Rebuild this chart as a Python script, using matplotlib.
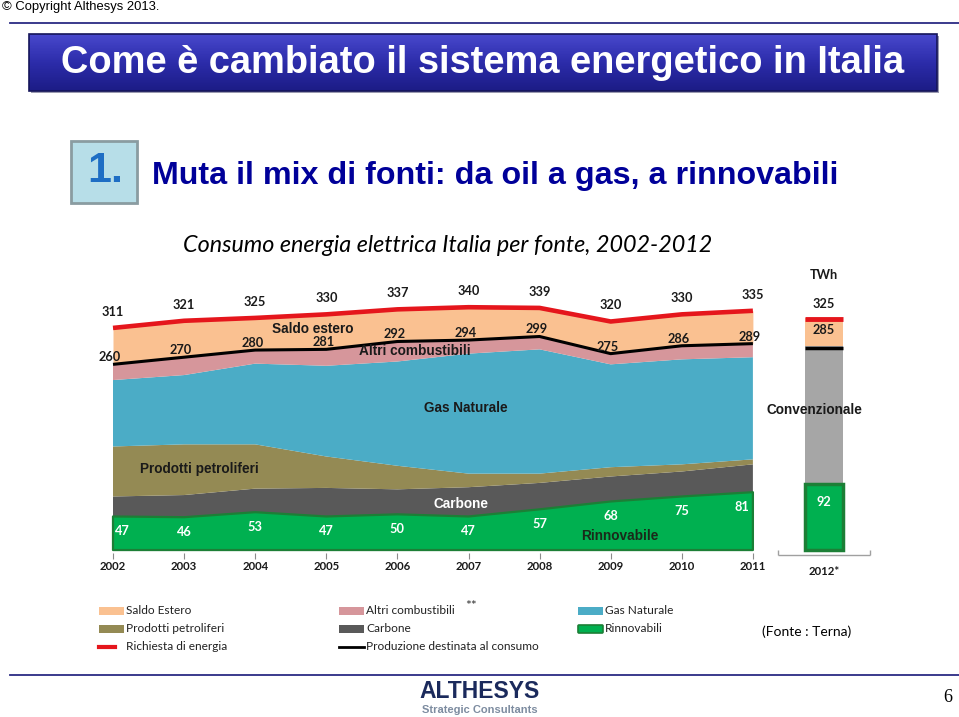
import numpy as np
import matplotlib.pyplot as plt
from matplotlib.patches import Rectangle, FancyBboxPatch
from matplotlib.colors import LinearSegmentedColormap
import matplotlib.transforms as mtransforms
from matplotlib import font_manager

# dati (TWh)
anni = [2002, 2003, 2004, 2005, 2006, 2007, 2008, 2009, 2010, 2011]
rinnovabili = [47, 46, 53, 47, 50, 47, 57, 68, 75, 81]
carbone = [28, 31, 33, 40, 35, 41, 37, 35, 35, 39]
petroliferi = [70, 71, 62, 44, 33, 19, 13, 13, 10, 7]
gas_naturale = [93, 97, 113, 127, 146, 168, 174, 144, 147, 143]
altri_comb = [22, 25, 19, 23, 28, 19, 18, 15, 19, 19]
produzione = [260, 270, 280, 281, 292, 294, 299, 275, 286, 289]
richiesta = [311, 321, 325, 330, 337, 340, 339, 320, 330, 335]

anno_2012 = 2012
rinn_2012 = 92
prod_2012 = 285
rich_2012 = 325

tick_labels = [str(a) for a in anni] + ['2012*']

c_saldo = '#fac191'
c_altri = '#d6969b'
c_gas = '#4bacc6'
c_petr = '#948a54'
c_carb = '#595959'
c_rinn = '#00b050'
c_rinn_edge = '#1c7f36'
c_red = '#e5161c'
c_conv = '#a6a6a6'

names = {f.name for f in font_manager.fontManager.ttflist}
def pick(*fams):
    return [f for f in fams if f in names] + ['DejaVu Sans']

CAL = pick('Lato', 'Open Sans')
ARI = pick('Liberation Sans')
NARROW = pick('Liberation Sans Narrow', 'Liberation Sans')

W, H = 959, 717
def px_box(l, t, r, b):
    return [l / W, 1 - b / H, (r - l) / W, (b - t) / H]

fig = plt.figure(figsize=(9.59, 7.17), dpi=100)

# ---- overlay in pixel coordinates: header, legend, footer
ov = fig.add_axes([0, 0, 1, 1])
ov.axis('off')

ov.text(2, 7, '\u00a9 Copyright Althesys 2013.', family=ARI, fontsize=9.4, va='center', ha='left')
ov.plot([10, W], [23, 23], color='#2b2b84', lw=1.3)

grad = np.linspace(0, 1, 60)[:, None]
cmap = LinearSegmentedColormap.from_list('tb', ['#4848cc', '#2c2caa', '#1c1c86'])
ov.add_patch(Rectangle((31, 36), 908, 57, facecolor='#9a9ab0', edgecolor='none', zorder=0.5))
ov.imshow(grad, cmap=cmap, extent=(29, 937, 91, 34), aspect='auto', zorder=1)
ov.add_patch(Rectangle((29, 34), 908, 57, fill=False, edgecolor='#15155a', lw=1.2, zorder=2))
ov.text(483, 63, 'Come \u00e8 cambiato il sistema energetico in Italia', family=ARI,
        fontsize=27.4, fontweight='bold', color='white', ha='center', va='center', zorder=3)

ov.add_patch(Rectangle((71, 141), 66, 62, facecolor='#b7dee8', edgecolor='#8a9ca1', lw=2, zorder=2))
ov.text(105, 171, '1.', family=ARI, fontsize=31, fontweight='bold', color='#1e6ec4',
        ha='center', va='center', zorder=3)
ov.text(152, 176, 'Muta il mix di fonti: da oil a gas, a rinnovabili', family=NARROW,
        fontsize=23.2, fontweight='bold', color='#000099', ha='left', va='center')

ov.text(448, 246, 'Consumo energia elettrica Italia per fonte, 2002-2012', family=CAL,
        fontsize=16.8, style='italic', ha='center', va='center')

legend_items = [
    ('Saldo Estero', 'patch', c_saldo),
    ('Prodotti petroliferi', 'patch', c_petr),
    ('Richiesta di energia', 'line', c_red),
    ('Altri combustibili', 'patch', c_altri),
    ('Carbone', 'patch', c_carb),
    ('Produzione destinata al consumo', 'line', 'black'),
    ('Gas Naturale', 'patch', c_gas),
    ('Rinnovabili', 'green', c_rinn),
]
col_x = [99, 339, 578]
row_y = [611, 629, 647]
for i, (lab, kind, col) in enumerate(legend_items):
    x0 = col_x[i // 3]
    y0 = row_y[i % 3]
    if kind == 'patch':
        ov.add_patch(Rectangle((x0, y0 - 4), 25, 8, facecolor=col, edgecolor='none'))
    elif kind == 'green':
        ov.add_patch(FancyBboxPatch((x0 + 1, y0 - 3), 23, 6, boxstyle='round,pad=1',
                                    facecolor=col, edgecolor=c_rinn_edge, lw=1.2))
    elif col == 'black':
        ov.plot([x0, x0 + 25], [y0, y0], color=col, lw=2)
    else:
        ov.plot([x0, x0 + 16], [y0, y0], color=col, lw=3)
    ov.text(x0 + 27, y0, lab, family=CAL, fontsize=8.6, ha='left', va='center', color='#222222')
ov.text(471, 606, '**', family=CAL, fontsize=10, ha='center', va='center', color='#333333')
ov.text(807, 632, '(Fonte : Terna)', family=CAL, fontsize=10, ha='center', va='center')

ov.plot([10, W], [675, 675], color='#2b2b84', lw=1.3)
ov.text(480, 691, 'ALTHESYS', family=ARI, fontsize=16.5, fontweight='bold', color='#1b2a5c',
        ha='center', va='center')
ov.text(480, 710, 'Strategic Consultants', family=ARI, fontsize=8, fontweight='bold',
        color='#7d8ca0', ha='center', va='center')
ov.text(948, 698, '6', family=pick('Liberation Serif', 'DejaVu Serif'), fontsize=13,
        ha='center', va='center')
ov.set_xlim(0, W)
ov.set_ylim(H, 0)

# ---- main chart
ax = fig.add_axes(px_box(95, 271.5, 880, 552.9))
ax.patch.set_visible(False)
x = np.array(anni)

ax.stackplot(x, rinnovabili, carbone, petroliferi, gas_naturale, altri_comb,
             colors=[c_rinn, c_carb, c_petr, c_gas, c_altri], linewidth=0, zorder=1)
ax.fill_between(x, 0, rinnovabili, facecolor='none', edgecolor=c_rinn_edge, lw=1.6, zorder=2)
ax.fill_between(x, produzione, richiesta, color=c_saldo, lw=0, zorder=1)
ax.plot(x, richiesta, color=c_red, lw=3.3, zorder=3, solid_capstyle='butt')
ax.plot(x, produzione, color='black', lw=2.2, zorder=3, solid_capstyle='butt')

bw = 0.53
ax.bar(anno_2012, rinn_2012, width=bw, color=c_rinn, edgecolor=c_rinn_edge, linewidth=2.5, zorder=2)
ax.bar(anno_2012, prod_2012 - rinn_2012, bottom=rinn_2012, width=bw, color=c_conv, lw=0, zorder=1)
ax.bar(anno_2012, rich_2012 - prod_2012, bottom=prod_2012, width=bw, color=c_saldo, lw=0, zorder=1)
ax.hlines([rich_2012 - 2], anno_2012 - bw / 2, anno_2012 + bw / 2, color=c_red, lw=3.5, zorder=3)
ax.hlines([prod_2012 - 2], anno_2012 - bw / 2, anno_2012 + bw / 2, color='black', lw=2.5, zorder=3)
ax.hlines(-7, anno_2012 - 0.65, anno_2012 + 0.65, color='#a0a0a0', lw=1, clip_on=False)
ax.vlines([anno_2012 - 0.65, anno_2012 + 0.65], -7, 0, color='#a0a0a0', lw=1, clip_on=False)

# etichette valori
bold = dict(family=CAL, fontsize=9.2, fontweight='bold')
for a, v in zip(anni, richiesta):
    ax.annotate(str(v), (a, v), xytext=(0, 16), textcoords='offset pixels',
                ha='center', va='center', color='#1a1a1a', **bold)
for a, v in zip(anni, produzione):
    ax.annotate(str(v), (a, v), xytext=(-3, 7), textcoords='offset pixels',
                ha='center', va='center', color='#1a1a1a', **bold)
n = len(anni)
for i, (a, v) in enumerate(zip(anni, rinnovabili)):
    ha = 'left' if i == 0 else ('right' if i == n - 1 else 'center')
    dx = 2 if i == 0 else (-4 if i == n - 1 else 0)
    ax.annotate(str(v), (a, v), xytext=(dx, -15), textcoords='offset pixels',
                ha=ha, va='center', color='white', **bold)
ax.annotate(str(rich_2012), (anno_2012, rich_2012), xytext=(0, 14), textcoords='offset pixels',
            ha='center', va='center', color='#1a1a1a', **bold)
ax.annotate(str(prod_2012), (anno_2012, prod_2012), xytext=(0, 16), textcoords='offset pixels',
            ha='center', va='center', color='#1a1a1a', **bold)
ax.annotate(str(rinn_2012), (anno_2012, rinn_2012), xytext=(0, -18), textcoords='offset pixels',
            ha='center', va='center', color='white', **bold)
ax.text(anno_2012, 385, 'TWh', ha='center', va='center', color='#1a1a1a', **bold)

# etichette aree
area = dict(family=ARI, fontsize=9.8, fontweight='bold', ha='center', va='center')
ax.text(2004.81, 310, 'Saldo estero', color='#1a1a1a', **area)
ax.text(2006.25, 278, 'Altri combustibili', color='#1a1a1a', **area)
ax.text(2006.96, 199, 'Gas Naturale', color='#1a1a1a', **area)
ax.text(2003.21, 113, 'Prodotti petroliferi', color='#1a1a1a', **area)
ax.text(2006.9, 64, 'Carbone', color='white', **area)
ax.text(2009.13, 20, 'Rinnovabile', color='#1a2a1a', **area)
ax.text(2011.87, 196, 'Convenzionale', color='#1a1a1a', **area)

ax.set_xlim(2002 - 18 / 71.1, 2002 + 767 / 71.1)
ax.set_ylim(-4, 390)
ax.set_xticks(anni + [anno_2012])
ax.set_xticklabels(tick_labels, family=CAL, fontsize=8.2, fontweight='bold', color='#1a1a1a')
ax.tick_params(axis='x', length=4, width=0.8, color='#8c8c8c', pad=2)
ax.xaxis.get_major_ticks()[-1].tick1line.set_visible(False)
lab12 = ax.get_xticklabels()[-1]
lab12.set_transform(lab12.get_transform() + mtransforms.ScaledTranslation(0, -5 / 100, fig.dpi_scale_trans))
ax.set_yticks([])
for s in ax.spines.values():
    s.set_visible(False)

fig.savefig('out.png', dpi=100)
